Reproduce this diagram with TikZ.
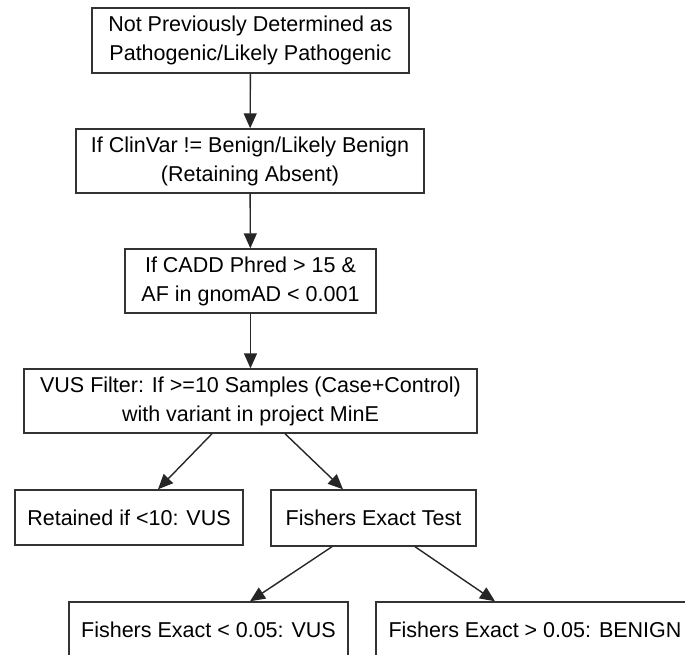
\documentclass[tikz,border=0pt]{standalone}
\usepackage{fontspec}
\setmainfont{Liberation Sans}
\usetikzlibrary{arrows.meta}
\begin{document}
\begin{tikzpicture}
        [x=1pt, y=-1pt,
        box/.style={draw=black!80, line width=1.4pt, align=center, inner sep=0pt, font=\fontsize{21.5}{29}\selectfont},
        edge/.style={line width=1.4pt, black!85, -{Triangle[length=15pt, width=13pt]}}]

        \useasboundingbox (0,0) rectangle (685,655);

        % filter chain
        \node[box, minimum width=317, minimum height=65] (prev) at (250.5,40.5) {Not Previously Determined as\\Pathogenic/Likely Pathogenic};
        \node[box, minimum width=348, minimum height=64] (clinvar) at (250,161) {If ClinVar != Benign/Likely Benign\\(Retaining Absent)};
        \node[box, minimum width=251, minimum height=64] (cadd) at (250.5,281) {If CADD Phred > 15 \&\\AF in gnomAD < 0.001};
        \node[box, minimum width=453, minimum height=64] (vus) at (250.5,401) {VUS Filter: If >=10 Samples (Case+Control)\\with variant in project MinE};

        % outcomes
        \node[box, minimum width=228, minimum height=55] (keep) at (129,517.5) {Retained if <10: VUS};
        \node[box, minimum width=205, minimum height=56] (fisher) at (373.5,518) {Fishers Exact Test};
        \node[box, minimum width=279, minimum height=56] (low) at (208.5,630) {Fishers Exact < 0.05: VUS};
        \node[box, minimum width=318, minimum height=56] (high) at (535,630) {Fishers Exact > 0.05: BENIGN};

        % arrows
        \draw[edge] (prev) -- (clinvar);
        \draw[edge] (clinvar) -- (cadd);
        \draw[edge] (cadd) -- (vus);
        \draw[edge] ([xshift=-38.5pt]vus.south) -- ([xshift=29pt]keep.north);
        \draw[edge] ([xshift=34.5pt]vus.south) -- ([xshift=-30.5pt]fisher.north);
        \draw[edge] ([xshift=-41.5pt]fisher.south) -- ([xshift=41.5pt]low.north);
        \draw[edge] ([xshift=41.5pt]fisher.south) -- ([xshift=-40pt]high.north);

\end{tikzpicture}
\end{document}
